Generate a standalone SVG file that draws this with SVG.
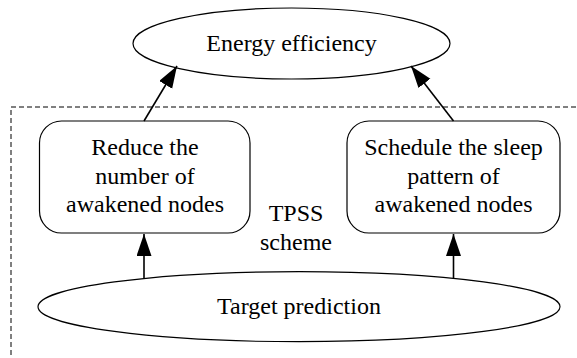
<svg xmlns="http://www.w3.org/2000/svg" width="577" height="358" viewBox="0 0 577 358">
<style>
  .shape { fill: #ffffff; stroke: #000000; stroke-width: 1.2; }
  .cluster { fill: none; stroke: #000000; stroke-width: 1; stroke-dasharray: 5,3; }
  .lbl { font-family: "Liberation Serif", "Times New Roman", serif; font-size: 24px; fill: #000000; text-anchor: middle; }
  .edge { fill: none; stroke: #000000; stroke-width: 1.6; }
</style>
<defs>
  <marker id="arr" markerUnits="userSpaceOnUse" markerWidth="23" markerHeight="16" refX="22" refY="7.5" orient="auto">
    <path d="M0,0 L22,7.5 L0,15 z" fill="#000000"/>
  </marker>
</defs>
<rect width="577" height="358" fill="#ffffff"/>
<g id="cluster-tpss">
  <rect class="cluster" x="11" y="107" width="620" height="300"/>
  <text class="lbl" x="296" y="221">TPSS</text>
  <text class="lbl" x="296" y="250">scheme</text>
</g>
<g id="node-energy">
  <ellipse class="shape" cx="291.5" cy="43.5" rx="158.5" ry="35.5"/>
  <text class="lbl" x="291.5" y="51">Energy efficiency</text>
</g>
<g id="node-reduce">
  <rect class="shape" x="39.5" y="121" width="210.5" height="112" rx="22" ry="22"/>
  <text class="lbl" x="145" y="155">Reduce the</text>
  <text class="lbl" x="145" y="183.5">number of</text>
  <text class="lbl" x="145" y="212">awakened nodes</text>
</g>
<g id="node-schedule">
  <rect class="shape" x="347" y="121" width="213" height="112" rx="22" ry="22"/>
  <text class="lbl" x="453.5" y="155">Schedule the sleep</text>
  <text class="lbl" x="453.5" y="183.5">pattern of</text>
  <text class="lbl" x="453.5" y="212">awakened nodes</text>
</g>
<g id="node-target">
  <ellipse class="shape" cx="299" cy="306.7" rx="261" ry="35"/>
  <text class="lbl" x="299" y="314">Target prediction</text>
</g>
<g id="connectors">
  <line class="edge" x1="144" y1="121" x2="177" y2="66" marker-end="url(#arr)"/>
  <line class="edge" x1="453.5" y1="121" x2="411" y2="66" marker-end="url(#arr)"/>
  <line class="edge" x1="144" y1="278" x2="144" y2="234" marker-end="url(#arr)"/>
  <line class="edge" x1="453.5" y1="278" x2="453.5" y2="234" marker-end="url(#arr)"/>
</g>
</svg>
